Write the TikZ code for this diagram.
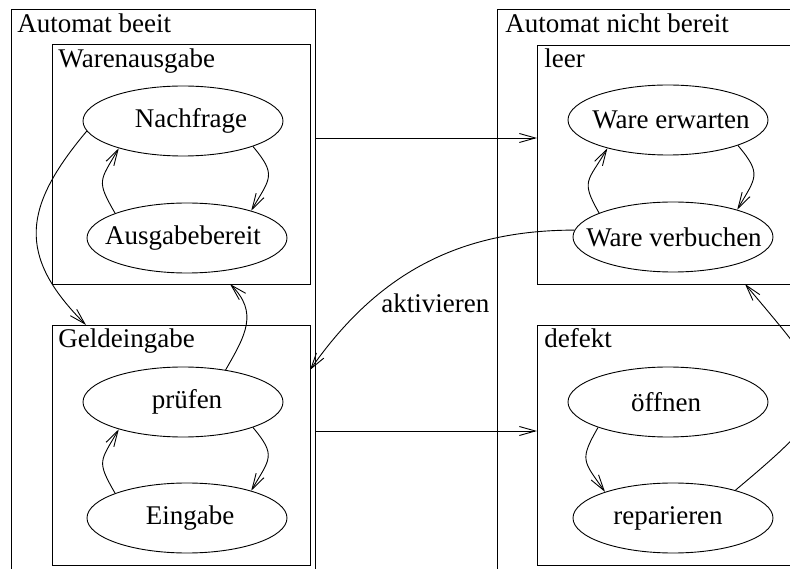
\documentclass[tikz,border=0pt]{standalone}
\usepackage{fontspec}
\setmainfont{Liberation Serif}
\usetikzlibrary{shapes.geometric,arrows.meta,calc}
\tikzset{
  box/.style={draw, rectangle, inner sep=0pt, outer sep=0pt, anchor=north west},
  state/.style={draw, ellipse, minimum width=200pt, minimum height=70pt, inner sep=0pt},
  title/.style={anchor=base west, inner sep=0pt},
  conn/.style={-{Straight Barb[length=16pt,width=9pt]}, line width=0.9pt},
  loopr/.style={out=-50,in=60,looseness=1.5},
  loopl/.style={out=120,in=-120,looseness=1.5}
}
\begin{document}
\begin{tikzpicture}[x=1pt,y=1pt,line width=0.9pt,font=\fontsize{27}{32}\selectfont]
\useasboundingbox (0,0) rectangle (790,568);
% outer boxes
\node[box, minimum width=304pt, minimum height=575pt] (outerL) at (11,559) {};
\node[box, minimum width=320pt, minimum height=575pt] (outerR) at (497,559) {};
% inner boxes
\node[box, minimum width=258pt, minimum height=240pt] (ware) at (52,524) {};
\node[box, minimum width=258pt, minimum height=240pt] (geld) at (52,243) {};
\node[box, minimum width=280pt, minimum height=239pt] (leer) at (537,523) {};
\node[box, minimum width=280pt, minimum height=240pt] (defekt) at (537,243) {};
% titles
\node[title] (tL) at (17,535) {Automat beeit};
\node[title] (tR) at (505,535) {Automat nicht bereit};
\node[title] (tW) at (58,500) {Warenausgabe};
\node[title] (tG) at (58,220) {Geldeingabe};
\node[title] (tLe) at (544,500) {leer};
\node[title] (tD) at (544,220) {defekt};
% states
\node[state, label={[xshift=8pt]center:Nachfrage}] (nach) at (183,447) {};
\node[state, label={[xshift=-4pt]center:Ausgabebereit}] (ausg) at (187,330) {};
\node[state, label={[xshift=4pt]center:prüfen}] (pruef) at (183,166) {};
\node[state, label={[xshift=3pt]center:Eingabe}] (eing) at (187,50) {};
\node[state, label={[xshift=3pt]center:Ware erwarten}] (erw) at (668,448) {};
\node[state, label={[xshift=1pt]center:Ware verbuchen}] (verb) at (673,331) {};
\node[state, label={[xshift=-2pt]center:öffnen}] (oeff) at (668,166) {};
\node[state, label={[xshift=-5pt]center:reparieren}] (rep) at (673,50) {};
% label
\node[title] (akt) at (381,255) {aktivieren};
% coordinates
\coordinate (h1) at (0,430);
\coordinate (h2) at (0,137);
\coordinate (gtop) at ($(geld.north west)+(34,0)$);
\coordinate (wbot) at ($(ware.south west)+(178,0)$);
\coordinate (geast) at ($(geld.north east)+(0,-45)$);
\coordinate (lbot) at ($(leer.south west)+(208,0)$);
% connectors inside boxes
\draw[conn] (nach.-20) to[loopr] (ausg.23);
\draw[conn] (ausg.161) to[loopl] (nach.-157);
\draw[conn] (pruef.-20) to[loopr] (eing.23);
\draw[conn] (eing.161) to[loopl] (pruef.-157);
\draw[conn] (erw.-20) to[loopr] (verb.23);
\draw[conn] (verb.162) to[loopl] (erw.-155);
\draw[conn] (oeff.-160) to[out=-120,in=125,looseness=1.5] (rep.159);
% other connectors
\draw[conn] (nach.186) to[out=230,in=135,looseness=1.3] (gtop);
\draw[conn] (pruef.37) to[out=60,in=-45,looseness=1.2] (wbot);
\draw[conn] (rep.24) to[out=40,in=-50,looseness=1.8] (lbot);
\draw[conn] (verb.176) to[out=180,in=55] (geast);
\draw[conn] (outerL.east |- h1) -- (leer.west |- h1);
\draw[conn] (outerL.east |- h2) -- (defekt.west |- h2);
\end{tikzpicture}
\end{document}
